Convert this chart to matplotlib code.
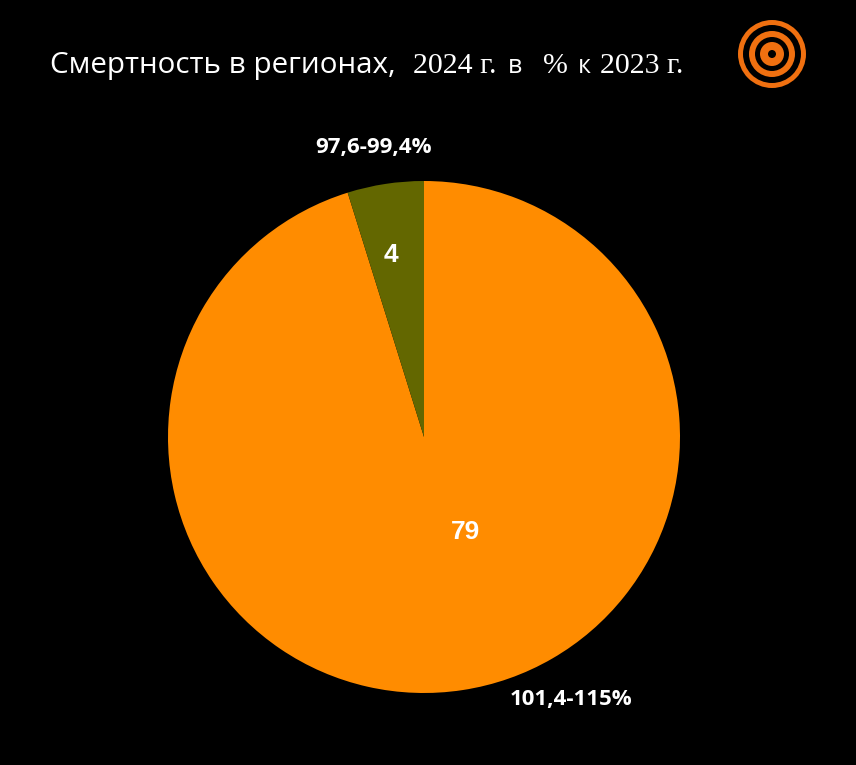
import matplotlib as mpl
import matplotlib.pyplot as plt
from matplotlib.patches import Circle

mpl.use('Agg')

values = [79, 4]
ranges = ["101,4-115%", "97,6-99,4%"]
colors = ["#ff8c00", "#636700"]
# title is typed in mixed fonts: (text, family, size, x in px)
title_parts = [
    ("Смертность в регионах,", "Open Sans", 21.3, 50),
    ("2024 г.", "Liberation Serif", 21.5, 413),
    ("в", "Open Sans", 18, 508),
    ("%", "Liberation Serif", 21.5, 543),
    ("к", "Open Sans", 18, 578),
    ("2023 г.", "Liberation Serif", 21.5, 600),
]

W, H = 856, 765
fig = plt.figure(figsize=(W / 100, H / 100), dpi=100, facecolor="black")

# pie: centre ~(424,437), radius ~256 px
r = 256
ax = fig.add_axes([(424 - r) / W, 1 - (437 + r) / H, 2 * r / W, 2 * r / H])
ax.set_facecolor("black")
wedges, _ = ax.pie(values, colors=colors, startangle=90, counterclock=False,
                   radius=1, wedgeprops=dict(linewidth=0))
ax.set_xlim(-1, 1)
ax.set_ylim(-1, 1)
ax.set_aspect("equal")
ax.axis("off")

# numbers inside wedges
ax.text(0.164, -0.37, str(values[0]), color="white",
        fontsize=19, fontweight="bold", family="Liberation Sans",
        ha="center", va="center")
ax.text(-0.129, 0.71, str(values[1]), color="white",
        fontsize=19, fontweight="bold", family="Liberation Sans",
        ha="center", va="center")

# range labels outside
fig.text(571 / W, 1 - 699 / H, ranges[0], color="white", fontsize=16,
         fontweight="bold", family="Open Sans", ha="center", va="center")
fig.text(373 / W, 1 - 147 / H, ranges[1], color="white", fontsize=16,
         fontweight="bold", family="Open Sans", ha="center", va="center")

# title
for txt, fam, size, x in title_parts:
    fig.text(x / W, 1 - 73 / H, txt, color="white", fontsize=size,
             family=fam, ha="left", va="baseline")

# logo
lax = fig.add_axes([(772 - 36) / W, 1 - (54 + 36) / H, 72 / W, 72 / H])
lax.set_xlim(-36, 36)
lax.set_ylim(-36, 36)
lax.set_aspect("equal")
lax.axis("off")
for rad, col in [(34, "#f07010"), (29, "black"), (23, "#f07010"),
                 (17, "black"), (12, "#f07010"), (4, "black")]:
    lax.add_patch(Circle((0, 0), rad, color=col, lw=0))

fig.savefig("out.png", dpi=100, facecolor="black")
